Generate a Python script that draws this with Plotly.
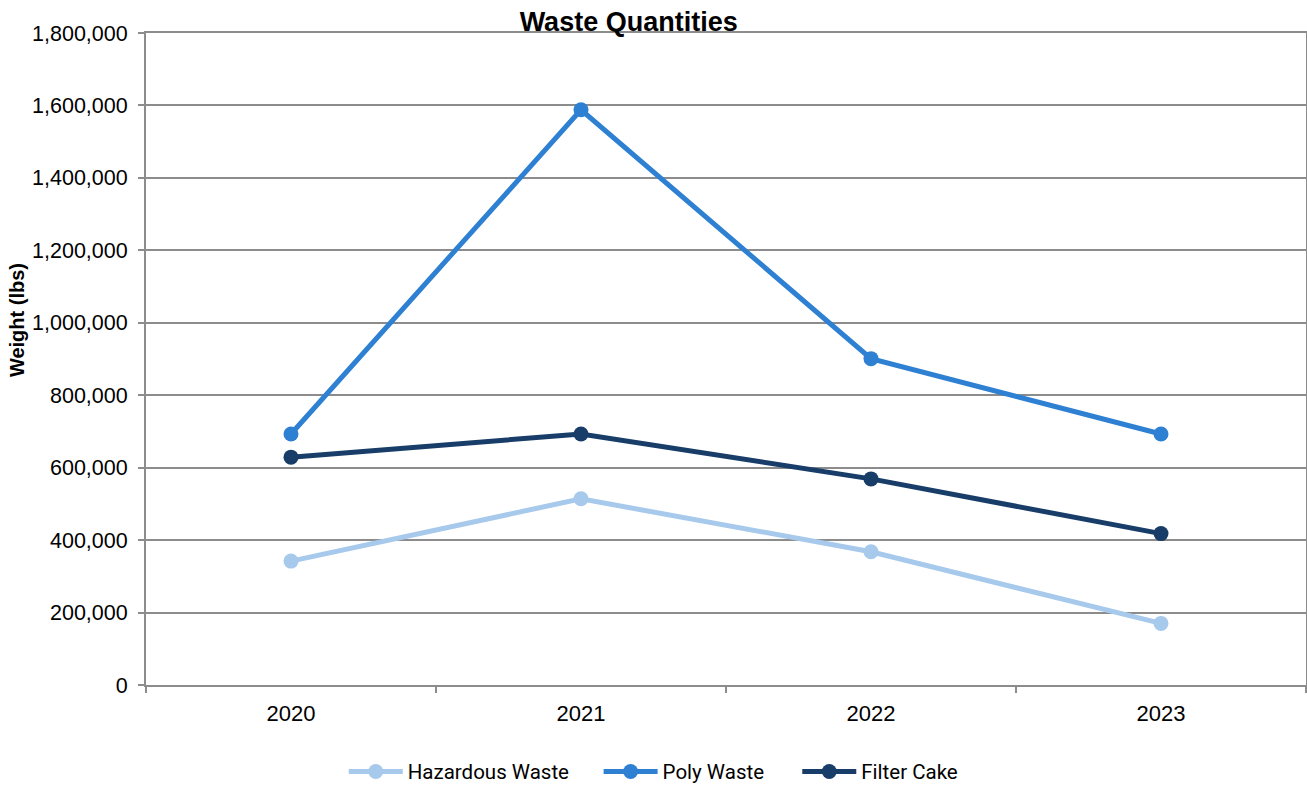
import plotly.graph_objects as go

years = ["2020", "2021", "2022", "2023"]
hazardous_waste = [342000, 514000, 368000, 170000]
poly_waste = [693000, 1588000, 901000, 693000]
filter_cake = [629000, 693000, 569000, 418000]

series = [
    ("Hazardous Waste", hazardous_waste, "#A6C9EC", "legend"),
    ("Poly Waste", poly_waste, "#2E80D2", "legend2"),
    ("Filter Cake", filter_cake, "#173D68", "legend3"),
]

fig = go.Figure()
for name, values, color, leg in series:
    fig.add_trace(go.Scatter(
        x=years, y=values, name=name, mode="lines+markers",
        line=dict(color=color, width=5),
        marker=dict(color=color, size=15),
        legend=leg,
    ))

# one legend box per series so the entries can be spread out along the bottom
legend_font = dict(family="Roboto, sans-serif", size=20.5, color="black")
def legend_at(x):
    return dict(orientation="h", xref="container", yref="container",
                x=x, xanchor="left", y=0.017, yanchor="middle",
                font=legend_font, bgcolor="rgba(0,0,0,0)", itemwidth=54)

grid = "#8c8c8c"
fig.update_layout(
    width=1307, height=785,
    margin=dict(l=146, r=1, t=33, b=100, autoexpand=False),
    paper_bgcolor="white", plot_bgcolor="white",
    font=dict(family="Liberation Sans, Arial, sans-serif", size=21, color="black"),
    title=dict(text="<b>Waste Quantities</b>", x=0.481, xanchor="center",
               y=0.972, yanchor="middle",
               font=dict(size=27, family="Liberation Sans, Arial, sans-serif")),
    showlegend=True,
    legend=legend_at(0.263),
    legend2=legend_at(0.458),
    legend3=legend_at(0.61),
    xaxis=dict(
        type="category", range=[-0.5, 3.5], tickson="boundaries",
        ticks="outside", ticklen=6, tickcolor=grid, tickwidth=1.5,
        showline=True, linecolor=grid, linewidth=2, mirror=True,
        showgrid=False, tickfont=dict(size=22), ticklabelstandoff=8,
    ),
    yaxis=dict(
        range=[0, 1800000], dtick=200000, tickformat=",d",
        ticks="outside", ticklen=6, tickcolor=grid, tickwidth=1.5,
        showline=True, linecolor=grid, linewidth=2, mirror=True,
        showgrid=True, gridcolor=grid, gridwidth=1.5,
        tickfont=dict(size=21.5), zeroline=False, ticklabelstandoff=6,
    ),
    annotations=[dict(
        text="<b>Weight (lbs)</b>", textangle=-90, xref="paper", yref="paper",
        x=-0.111, xanchor="center", y=0.56, yanchor="middle", showarrow=False,
        font=dict(size=20),
    )],
)

fig.write_html("out.html")
